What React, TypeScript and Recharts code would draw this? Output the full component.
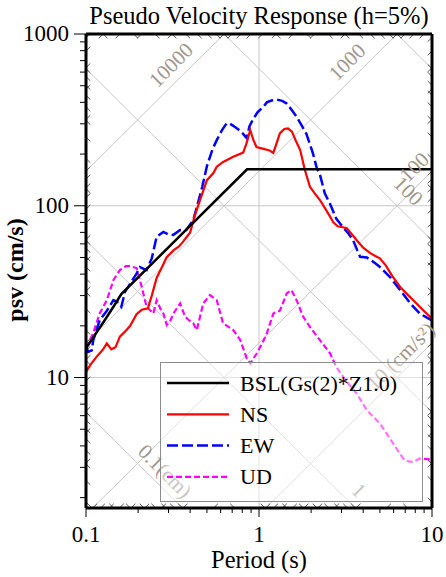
import React from 'react';
import { ComposedChart, Line, XAxis, YAxis, ReferenceLine, ReferenceDot } from 'recharts';

// ---- data: [period (s), pSv (cm/s)] ----
const BSL: [number, number][] = [
  [0.1, 14.8], [0.115, 18.3], [0.13, 22.0], [0.145, 26.1], [0.16, 30.6], [0.853, 163], [10, 163],
];

const NS: [number, number][] = [
  [0.1, 10.8], [0.107, 12], [0.115, 13.2], [0.125, 14.5], [0.132, 15.8], [0.14, 14.6], [0.148, 15],
  [0.157, 17.3], [0.168, 18.5], [0.18, 20], [0.196, 23.4], [0.21, 24.8], [0.228, 25.3], [0.24, 30],
  [0.256, 38], [0.275, 44], [0.292, 50], [0.32, 55], [0.345, 58], [0.365, 62], [0.4, 70], [0.426, 88],
  [0.456, 108], [0.5, 141], [0.545, 155], [0.57, 169], [0.62, 180], [0.71, 193], [0.81, 204],
  [0.846, 230], [0.89, 276], [0.93, 240], [0.967, 220], [1.05, 215], [1.15, 210], [1.21, 203],
  [1.28, 240], [1.32, 264], [1.4, 280], [1.47, 282], [1.55, 270], [1.63, 240], [1.73, 211],
  [1.84, 162], [1.97, 129], [2.1, 118], [2.25, 108], [2.45, 94], [2.6, 85], [2.69, 80], [2.85, 76],
  [3.05, 75], [3.22, 74], [3.45, 68], [3.67, 63], [4.0, 57], [4.4, 53], [4.7, 51], [5.0, 49.4],
  [5.4, 45], [5.9, 39], [6.54, 33.7], [7.2, 30.5], [7.8, 28.2], [8.6, 25.5], [9.5, 23.1], [10, 22],
];

const EW: [number, number][] = [
  [0.1, 15.2], [0.103, 14.1], [0.108, 14.4], [0.11, 16.4], [0.12, 21.6], [0.132, 24.5], [0.144, 28.2],
  [0.152, 27.5], [0.16, 25.8], [0.168, 31.5], [0.18, 35.2], [0.196, 40.3], [0.205, 44], [0.224, 42.2],
  [0.24, 49.4], [0.256, 66], [0.28, 70.4], [0.3, 68], [0.32, 67.7], [0.35, 72.3], [0.38, 72.3],
  [0.417, 82.6], [0.437, 98], [0.456, 115], [0.47, 129], [0.5, 170], [0.54, 215], [0.57, 241],
  [0.61, 275], [0.65, 302], [0.68, 300], [0.71, 292], [0.76, 278], [0.81, 262], [0.85, 247],
  [0.88, 290], [0.92, 316], [0.98, 350], [1.06, 377], [1.11, 400], [1.18, 410], [1.27, 415],
  [1.36, 408], [1.44, 395], [1.55, 360], [1.65, 330], [1.76, 295], [1.88, 262], [2.05, 202],
  [2.16, 165], [2.25, 152], [2.4, 118], [2.58, 102], [2.8, 84], [3.04, 75.5], [3.25, 70], [3.5, 63],
  [3.7, 55], [3.84, 50.5], [4.2, 50], [4.6, 47], [5.0, 44], [5.7, 38.6], [6.54, 32.3], [7.5, 27],
  [8.5, 23.6], [9.5, 22.1], [10, 21.5],
];

const UD: [number, number][] = [
  [0.1, 15], [0.103, 15.8], [0.11, 18.1], [0.12, 23.6], [0.132, 28.2], [0.144, 36.9], [0.157, 42.2],
  [0.17, 44.5], [0.18, 44.5], [0.196, 43.4], [0.21, 33.7], [0.224, 25.8], [0.245, 23.6], [0.256, 28.2],
  [0.27, 25], [0.28, 23.6], [0.293, 20.2], [0.305, 21], [0.32, 23.6], [0.35, 27], [0.374, 22.6],
  [0.395, 21.5], [0.417, 20.7], [0.437, 18.9], [0.476, 27], [0.52, 30.2], [0.57, 28.2], [0.62, 20.7],
  [0.71, 18.9], [0.78, 16.5], [0.85, 12.9], [0.89, 12.1], [0.97, 13.8], [1.05, 16], [1.11, 18.1],
  [1.21, 23.6], [1.32, 24.5], [1.45, 31], [1.54, 32.3], [1.65, 28.2], [1.8, 22.6], [1.97, 19.7],
  [2.25, 16.5], [2.58, 13.8], [2.8, 11.5], [3.2, 9.5], [3.67, 8.08], [4.2, 6.46], [5.0, 5.4],
  [5.97, 4.13], [6.8, 3.38], [7.3, 3.25], [7.8, 3.23], [8.5, 3.38], [9.5, 3.35], [10, 3.3],
];

// ---- axes ----
const X_DOMAIN: [number, number] = [0.1, 10];
const Y_DOMAIN: [number, number] = [1.74, 1000];
const X_TICKS = [0.1, 0.2, 0.3, 0.4, 0.5, 0.6, 0.7, 0.8, 0.9, 1, 2, 3, 4, 5, 6, 7, 8, 9, 10];
const X_MAJOR = [0.1, 1, 10];
const Y_TICKS = [2, 3, 4, 5, 6, 7, 8, 9, 10, 20, 30, 40, 50, 60, 70, 80, 90, 100, 200, 300, 400, 500, 600, 700, 800, 900, 1000];
const Y_MAJOR = [10, 100, 1000];

// tripartite grid (acceleration cm/s^2, displacement cm)
const ACC_LINES = [10, 100, 1000, 10000];
const DISP_LINES = [0.1, 1, 10, 100, 1000];
const TRI_DECADES = [0.01, 0.1, 1, 10, 100, 1000, 10000, 100000];
const TRI_MULTS = [1, 2, 3, 4, 5, 6, 7, 8, 9];

const DIAG_LABELS = [
  { text: '10000', T: 0.31, v: 660, angle: -45 },
  { text: '1000', T: 3.23, v: 687, angle: -45 },
  { text: '100', T: 7.9, v: 168, angle: -45 },
  { text: '100', T: 7.3, v: 122, angle: 45 },
  { text: '10 (cm/s²)', T: 6.6, v: 13.3, angle: -45 },
  { text: '0.1(cm)', T: 0.286, v: 2.85, angle: 45 },
  { text: '1', T: 3.78, v: 2.21, angle: 45 },
];

const LEGEND = [
  { name: 'BSL(Gs(2)*Z1.0)', color: '#000000', dash: undefined as string | undefined, w: 2.5 },
  { name: 'NS', color: '#ff0000', dash: undefined as string | undefined, w: 2.2 },
  { name: 'EW', color: '#0000ff', dash: '11 4', w: 2.5 },
  { name: 'UD', color: '#ff00ff', dash: '6 3', w: 2.2 },
];

const FONT = "'Liberation Serif', 'Times New Roman', 'DejaVu Serif', serif";
const TWO_PI = 2 * Math.PI;

const toRows = (arr: [number, number][]) => arr.map(([T, v]) => ({ T, v }));

type Seg = [{ x: number; y: number }, { x: number; y: number }];

function diagGrid(): Seg[] {
  const [ymin, ymax] = Y_DOMAIN;
  const segs: Seg[] = [];
  ACC_LINES.forEach((A) => {
    const lo = Math.max(X_DOMAIN[0], (TWO_PI * ymin) / A);
    const hi = Math.min(X_DOMAIN[1], (TWO_PI * ymax) / A);
    if (lo < hi) segs.push([{ x: lo, y: (A * lo) / TWO_PI }, { x: hi, y: (A * hi) / TWO_PI }]);
  });
  DISP_LINES.forEach((D) => {
    const lo = Math.max(X_DOMAIN[0], (TWO_PI * D) / ymax);
    const hi = Math.min(X_DOMAIN[1], (TWO_PI * D) / ymin);
    if (lo < hi) segs.push([{ x: lo, y: (TWO_PI * D) / lo }, { x: hi, y: (TWO_PI * D) / hi }]);
  });
  return segs;
}

function diagTicks(): Seg[] {
  const [ymin, ymax] = Y_DOMAIN;
  const [xmin, xmax] = X_DOMAIN;
  const k = Math.pow(10, 0.025);
  const segs: Seg[] = [];
  const inX = (t: number) => t > xmin && t < xmax;
  const inY = (s: number) => s > ymin && s < ymax;
  TRI_DECADES.forEach((d) =>
    TRI_MULTS.forEach((m) => {
      const A = m * d;
      // acceleration lines: Sv = A T / 2pi (slope +1)
      let t = (TWO_PI * ymax) / A;
      if (inX(t)) segs.push([{ x: t, y: ymax }, { x: t / k, y: ymax / k }]);
      t = (TWO_PI * ymin) / A;
      if (inX(t)) segs.push([{ x: t, y: ymin }, { x: t * k, y: ymin * k }]);
      let s = (A * xmin) / TWO_PI;
      if (inY(s)) segs.push([{ x: xmin, y: s }, { x: xmin * k, y: s * k }]);
      s = (A * xmax) / TWO_PI;
      if (inY(s)) segs.push([{ x: xmax, y: s }, { x: xmax / k, y: s / k }]);
      // displacement lines: Sv = 2pi D / T (slope -1)
      const D = m * d;
      t = (TWO_PI * D) / ymax;
      if (inX(t)) segs.push([{ x: t, y: ymax }, { x: t * k, y: ymax / k }]);
      t = (TWO_PI * D) / ymin;
      if (inX(t)) segs.push([{ x: t, y: ymin }, { x: t / k, y: ymin * k }]);
      s = (TWO_PI * D) / xmin;
      if (inY(s)) segs.push([{ x: xmin, y: s }, { x: xmin * k, y: s / k }]);
      s = (TWO_PI * D) / xmax;
      if (inY(s)) segs.push([{ x: xmax, y: s }, { x: xmax / k, y: s * k }]);
    })
  );
  return segs;
}

const XTick = (p: any) => {
  const { x, y, payload } = p;
  const v = payload.value;
  const major = X_MAJOR.some((m) => Math.abs(m - v) < 1e-9);
  return (
    <g>
      <line x1={x} x2={x} y1={y} y2={y + (major ? 9 : 5)} stroke="#000" strokeWidth={1} />
      {major && (
        <text x={x} y={y + 34} textAnchor="middle" fontSize={23} style={{ fontFamily: FONT }} fill="#000">
          {String(v)}
        </text>
      )}
    </g>
  );
};

const YTick = (p: any) => {
  const { x, y, payload } = p;
  const v = payload.value;
  const major = Y_MAJOR.includes(v);
  return (
    <g>
      <line x1={x} x2={x - (major ? 12 : 6)} y1={y} y2={y} stroke="#000" strokeWidth={1} />
      {major && (
        <text x={x - 17} y={y + 7} textAnchor="end" fontSize={23} style={{ fontFamily: FONT }} fill="#000">
          {String(v)}
        </text>
      )}
    </g>
  );
};

export default function App() {
  const grid = diagGrid();
  const ticks = diagTicks();
  return (
    <div style={{ position: 'absolute', left: 0, top: 0, width: 446, height: 577, background: '#fff', overflow: 'hidden' }}>
      <ComposedChart width={446} height={577} margin={{ top: 34, right: 14, left: 0, bottom: 29 }}>
        <XAxis
          dataKey="T"
          type="number"
          scale="log"
          domain={X_DOMAIN}
          allowDataOverflow
          ticks={X_TICKS}
          interval={0}
          tickSize={0}
          tickMargin={0}
          tick={<XTick />}
          height={40}
          axisLine={{ stroke: '#000', strokeWidth: 3 }}
        />
        <YAxis
          type="number"
          scale="log"
          domain={Y_DOMAIN}
          allowDataOverflow
          ticks={Y_TICKS}
          interval={0}
          tickSize={0}
          tickMargin={0}
          tick={<YTick />}
          width={86}
          axisLine={{ stroke: '#000', strokeWidth: 3 }}
        />
        <ReferenceLine x={1} stroke="#c8c8c8" strokeWidth={1} />
        <ReferenceLine y={10} stroke="#c8c8c8" strokeWidth={1} />
        <ReferenceLine y={100} stroke="#c8c8c8" strokeWidth={1} />
        {grid.map((s, i) => (
          <ReferenceLine key={'g' + i} segment={s} stroke="#c8c8c8" strokeWidth={1} ifOverflow="visible" />
        ))}
        {ticks.map((s, i) => (
          <ReferenceLine key={'t' + i} segment={s} stroke="#555" strokeWidth={1} ifOverflow="visible" />
        ))}
        {DIAG_LABELS.map((l, i) => (
          <ReferenceDot
            key={'l' + i}
            x={l.T}
            y={l.v}
            r={0}
            ifOverflow="visible"
            shape={(p: any) => (
              <text
                x={p.cx}
                y={p.cy}
                transform={`rotate(${l.angle} ${p.cx} ${p.cy})`}
                textAnchor="middle"
                dominantBaseline="central"
                fontSize={21}
                style={{ fontFamily: FONT }}
                fill="#a0968c"
              >
                {l.text}
              </text>
            )}
          />
        ))}
        <Line data={toRows(UD)} dataKey="v" name="UD" stroke="#ff00ff" strokeWidth={2.2} strokeDasharray="6 3" dot={false} isAnimationActive={false} type="linear" />
        <Line data={toRows(EW)} dataKey="v" name="EW" stroke="#0000ff" strokeWidth={2.5} strokeDasharray="11 4" dot={false} isAnimationActive={false} type="linear" />
        <Line data={toRows(NS)} dataKey="v" name="NS" stroke="#ff0000" strokeWidth={2.2} dot={false} isAnimationActive={false} type="linear" />
        <Line data={toRows(BSL)} dataKey="v" name="BSL(Gs(2)*Z1.0)" stroke="#000000" strokeWidth={2.5} dot={false} isAnimationActive={false} type="linear" />
        <ReferenceLine y={1000} stroke="#000" strokeWidth={3} />
        <ReferenceLine x={10} stroke="#000" strokeWidth={3} />
      </ComposedChart>

      {/* legend */}
      <div
        style={{
          position: 'absolute', left: 160, top: 362, width: 263, height: 140, boxSizing: 'border-box',
          border: '1.5px solid #8c8c8c', background: 'rgba(255,255,255,0.45)',
        }}
      >
        <svg width={260} height={137} style={{ position: 'absolute', left: 0, top: 0 }}>
          {LEGEND.map((e, i) => {
            const cy = 20 + i * 31.3;
            return (
              <g key={e.name}>
                <line x1={6} x2={68} y1={cy} y2={cy} stroke={e.color} strokeWidth={e.w} strokeDasharray={e.dash} />
                <text x={79} y={cy + 7.5} fontSize={22} style={{ fontFamily: FONT }} fill="#000">{e.name}</text>
              </g>
            );
          })}
        </svg>
      </div>

      {/* titles */}
      <svg width={446} height={577} style={{ position: 'absolute', left: 0, top: 0, pointerEvents: 'none' }}>
        <text x={259} y={24} textAnchor="middle" fontSize={24.5} style={{ fontFamily: FONT }} fill="#000">
          Pseudo Velocity Response (h=5%)
        </text>
        <text x={259} y={568} textAnchor="middle" fontSize={24.5} style={{ fontFamily: FONT }} fill="#000">
          Period (s)
        </text>
        <text x={23} y={270} transform="rotate(-90 23 270)" textAnchor="middle" fontSize={24} fontWeight="bold" style={{ fontFamily: FONT }} fill="#000">
          psv (cm/s)
        </text>
      </svg>
    </div>
  );
}
